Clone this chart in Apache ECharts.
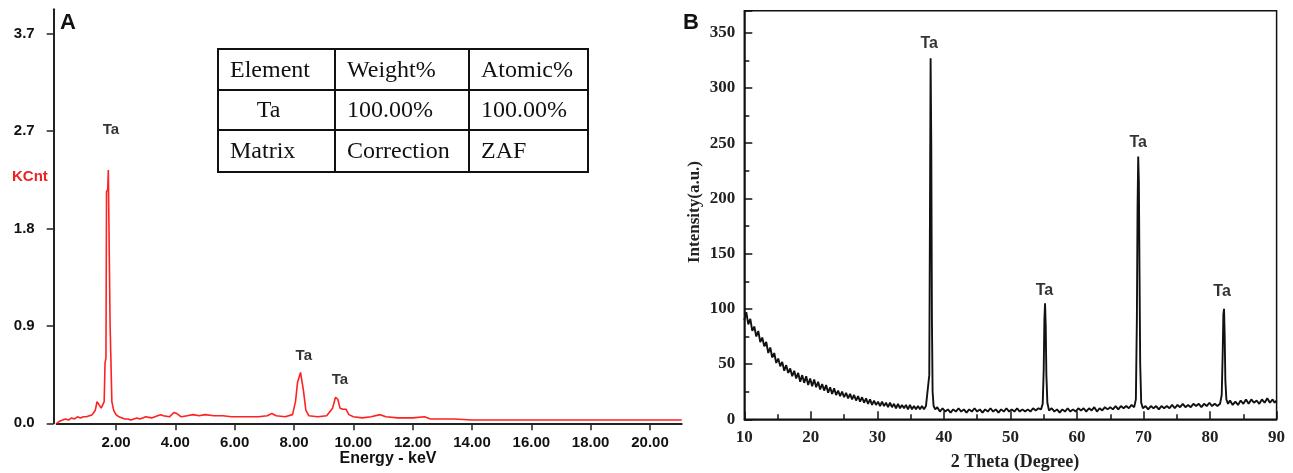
<!DOCTYPE html>
<html><head><meta charset="utf-8">
<script src="https://cdn.jsdelivr.net/npm/echarts@6/dist/echarts.min.js"></script>
<style>html,body{margin:0;padding:0;background:#fff}#c{width:1293px;height:473px}</style>
</head><body><div id="c"></div>
<script>
// ---- Panel A: EDS spectrum (Energy keV, KCnt)
const edsData = [
[0.0,0.0],[0.1,0.02],[0.2,0.03],[0.3,0.04],[0.4,0.03],[0.5,0.05],[0.6,0.04],[0.7,0.06],[0.8,0.05],[0.9,0.06],
[1.0,0.06],[1.1,0.07],[1.2,0.08],[1.3,0.12],[1.36,0.2],[1.42,0.19],[1.5,0.14],[1.56,0.14],[1.6,0.2],[1.63,0.56],
[1.66,0.6],[1.68,2.14],[1.72,2.16],[1.74,2.34],[1.78,2.34],[1.8,0.91],[1.84,0.9],[1.86,0.2],[1.92,0.12],[2.0,0.08],
[2.1,0.06],[2.2,0.05],[2.3,0.04],[2.4,0.04],[2.5,0.03],[2.6,0.04],[2.7,0.05],[2.8,0.04],[2.9,0.05],[3.0,0.06],
[3.2,0.05],[3.4,0.07],[3.5,0.08],[3.6,0.07],[3.8,0.06],[3.95,0.1],[4.05,0.09],[4.2,0.06],[4.4,0.07],[4.6,0.08],
[4.8,0.07],[5.0,0.08],[5.3,0.07],[5.6,0.07],[5.9,0.06],[6.2,0.06],[6.5,0.06],[6.8,0.06],[7.1,0.07],[7.25,0.09],
[7.4,0.07],[7.7,0.06],[7.95,0.08],[8.05,0.2],[8.12,0.38],[8.18,0.38],[8.22,0.47],[8.27,0.47],[8.32,0.3],[8.4,0.12],
[8.5,0.07],[8.8,0.06],[9.1,0.07],[9.3,0.14],[9.4,0.24],[9.48,0.22],[9.55,0.14],[9.65,0.13],[9.75,0.13],[9.85,0.08],
[10.0,0.06],[10.3,0.05],[10.6,0.06],[10.9,0.08],[11.1,0.06],[11.5,0.05],[12.0,0.05],[12.4,0.06],[12.6,0.04],[13.0,0.04],
[13.4,0.04],[14.0,0.03],[15.0,0.03],[16.0,0.03],[17.0,0.03],[18.0,0.03],[19.0,0.03],[20.0,0.03],[21.07,0.03]
];
const edsXTicks = [2,4,6,8,10,12,14,16,18,20];
const edsYTicks = [0,0.9,1.8,2.7,3.6];
const edsYLabels = ['0.0','0.9','1.8','2.7','3.7'];
const edsPeakLabels = [[1.83,2.71],[8.33,0.62],[9.55,0.40]];

// ---- Table in panel A
const tableRows = [
  ['Element','Weight%','Atomic%'],
  ['Ta','100.00%','100.00%'],
  ['Matrix','Correction','ZAF']
];

// ---- Panel B: XRD pattern (2 Theta, Intensity)
const xrdData = [
[10.0,90],[10.3,97],[10.6,86],[10.9,91],[11.2,80],[11.5,84],[11.8,75],[12.1,80],[12.4,70],[12.7,74],
[13.0,66],[13.3,70],[13.6,60],[13.9,65],[14.2,56],[14.5,60],[14.8,51],[15.1,55],[15.4,48],[15.7,52],
[16.0,44],[16.3,49],[16.6,42],[16.9,46],[17.2,39],[17.5,44],[17.8,37],[18.1,42],[18.4,34],[18.7,40],
[19.0,33],[19.3,39],[19.6,31],[19.9,37],[20.2,30],[20.5,36],[20.8,29],[21.1,34],[21.4,27],[21.7,32],
[22.0,26],[22.3,31],[22.6,24],[22.9,29],[23.2,23],[23.5,28],[23.8,22],[24.1,26],[24.4,21],[24.7,25],
[25.0,20],[25.3,24],[25.6,19],[25.9,23],[26.2,18],[26.5,22],[26.8,17],[27.1,21],[27.4,16],[27.7,20],
[28.0,15],[28.3,19],[28.6,14],[28.9,18],[29.2,13],[29.5,17],[29.8,13],[30.1,16],[30.4,12],[30.7,16],
[31.0,12],[31.3,15],[31.6,11],[31.9,15],[32.2,11],[32.5,14],[32.8,10],[33.1,14],[33.4,10],[33.7,13],
[34.0,10],[34.3,13],[34.6,9],[34.9,13],[35.2,9],[35.5,12],[35.8,9],[36.1,12],[36.4,9],[36.7,12],
[37.0,9],[37.3,12],[37.6,13],[37.8,40],[37.9,180],[38.0,327],[38.1,250],[38.2,90],[38.3,25],[38.45,12],
[38.7,9],[39.0,11],[39.4,7],[39.8,10],[40.2,7],[40.6,9],[41.0,6],[41.4,9],[41.8,7],[42.2,10],
[42.6,7],[43.0,9],[43.4,6],[43.8,9],[44.2,7],[44.6,10],[45.0,7],[45.4,9],[45.8,6],[46.2,9],
[46.6,7],[47.0,10],[47.4,7],[47.8,9],[48.2,6],[48.6,9],[49.0,7],[49.4,10],[49.8,7],[50.2,9],
[50.6,7],[51.0,10],[51.4,7],[51.8,9],[52.2,7],[52.6,9],[53.0,7],[53.4,10],[53.8,8],[54.2,10],
[54.6,9],[54.85,14],[55.0,45],[55.1,90],[55.2,105],[55.3,85],[55.4,40],[55.55,15],[55.8,8],[56.2,10],
[56.6,7],[57.0,9],[57.4,6],[57.8,9],[58.2,7],[58.6,10],[59.0,7],[59.4,9],[59.8,7],[60.2,10],
[60.6,8],[61.0,10],[61.4,7],[61.8,10],[62.2,8],[62.6,11],[63.0,7],[63.4,10],[63.8,8],[64.2,11],
[64.6,9],[65.0,11],[65.4,9],[65.8,12],[66.2,9],[66.6,12],[67.0,10],[67.4,12],[67.8,10],[68.2,13],
[68.6,11],[68.85,18],[69.0,90],[69.1,190],[69.2,238],[69.3,215],[69.4,130],[69.5,50],[69.65,15],[69.9,10],
[70.3,12],[70.7,9],[71.1,12],[71.5,10],[71.9,12],[72.3,9],[72.7,12],[73.1,10],[73.5,12],[73.9,10],
[74.3,13],[74.7,10],[75.1,13],[75.5,11],[75.9,14],[76.3,11],[76.7,13],[77.1,11],[77.5,14],[77.9,12],
[78.3,14],[78.7,11],[79.1,14],[79.5,12],[79.9,15],[80.3,12],[80.7,14],[81.1,12],[81.5,14],[81.75,22],
[81.9,60],[82.0,95],[82.1,100],[82.2,75],[82.3,35],[82.45,18],[82.7,14],[83.0,17],[83.4,13],[83.8,16],
[84.2,13],[84.6,17],[85.0,14],[85.4,18],[85.8,14],[86.2,18],[86.6,15],[87.0,17],[87.4,14],[87.8,18],
[88.2,15],[88.6,19],[89.0,15],[89.4,18],[89.7,15],[90.0,17]
];
const xrdPeakLabels = [[37.8,340],[55.1,117],[69.2,251],[81.8,116]];

const chart = echarts.init(document.getElementById('c'), null, {renderer:'canvas'});

const SANS = 'Liberation Sans, Arial, sans-serif';
const SERIF = 'Liberation Serif, Times New Roman, serif';

// table graphics
const colX = [218, 335, 469, 588];
const rowY = [49, 90, 130, 172];
const tableGraphics = [];
for (let r = 0; r < 3; r++) {
  for (let c = 0; c < 3; c++) {
    tableGraphics.push({
      type:'rect', z:100,
      shape:{x:colX[c], y:rowY[r], width:colX[c+1]-colX[c], height:rowY[r+1]-rowY[r]},
      style:{fill:'#fff', stroke:'#111', lineWidth:2}
    });
    const centered = (r === 1 && c === 0);
    tableGraphics.push({
      type:'text', z:101,
      x: centered ? (colX[c]+colX[c+1])/2 - 8 : colX[c] + 12,
      y: (rowY[r]+rowY[r+1])/2 + 1,
      style:{text: tableRows[r][c], fill:'#111', font:'24px ' + SERIF,
        align: centered ? 'center' : 'left', textAlign: centered ? 'center' : 'left',
        verticalAlign:'middle', textVerticalAlign:'middle'}
    });
  }
}

function txt(text, x, y, font, fill, align, rotation) {
  return {type:'text', z:50, x:x, y:y, rotation: rotation || 0,
    style:{text:text, font:font, fill:fill || '#111', align: align || 'left', textAlign: align || 'left',
      verticalAlign:'middle', textVerticalAlign:'middle'}};
}

const option = {
  animation:false,
  backgroundColor:'#fff',
  grid:[
    {left:56.7, right:1293-681.7, top:9.3, bottom:473-423.3, containLabel:false},
    {left:744.3, right:1293-1276.6, top:10.7, bottom:473-419.3, containLabel:false,
     show:true, borderColor:'#111', borderWidth:1.5, backgroundColor:'transparent'}
  ],
  xAxis:[
    {gridIndex:0, type:'value', min:0, max:21.07,
     axisLine:{show:true, onZero:false, lineStyle:{color:'#222', width:2}},
     axisTick:{show:true, inside:false, length:7, customValues:edsXTicks, lineStyle:{color:'#222', width:1.5}},
     axisLabel:{show:true, customValues:edsXTicks, margin:12, formatter:v => v.toFixed(2),
       color:'#111', fontWeight:'bold', fontSize:15, fontFamily:SANS},
     splitLine:{show:false}},
    {gridIndex:1, type:'value', min:10, max:90, interval:10,
     axisLine:{show:true, onZero:false, lineStyle:{color:'#111', width:1.5}},
     axisTick:{show:true, inside:true, length:8, lineStyle:{color:'#111', width:1.5}},
     minorTick:{show:true, splitNumber:2, length:5, lineStyle:{color:'#111', width:1.5}},
     axisLabel:{show:true, margin:10, color:'#222', fontWeight:'bold', fontSize:17, fontFamily:SERIF},
     splitLine:{show:false}}
  ],
  yAxis:[
    {gridIndex:0, type:'value', min:0, max:3.825, offset:3,
     axisLine:{show:true, onZero:false, lineStyle:{color:'#222', width:2}},
     axisTick:{show:true, inside:false, length:7, customValues:edsYTicks, lineStyle:{color:'#222', width:1.5}},
     axisLabel:{show:true, customValues:edsYTicks, margin:19,
       formatter:v => { let bi=0; edsYTicks.forEach((t,i)=>{ if (Math.abs(t-v) < Math.abs(edsYTicks[bi]-v)) bi=i; }); return edsYLabels[bi]; },
       color:'#111', fontWeight:'bold', fontSize:15, fontFamily:SANS},
     splitLine:{show:false}},
    {gridIndex:1, type:'value', min:0, max:370, interval:50,
     axisLine:{show:true, onZero:false, lineStyle:{color:'#111', width:1.5}},
     axisTick:{show:true, inside:true, length:8, lineStyle:{color:'#111', width:1.5}},
     minorTick:{show:true, splitNumber:2, length:5, lineStyle:{color:'#111', width:1.5}},
     axisLabel:{show:true, margin:9, showMaxLabel:false, color:'#222', fontWeight:'bold', fontSize:17, fontFamily:SERIF},
     splitLine:{show:false}}
  ],
  series:[
    {type:'line', xAxisIndex:0, yAxisIndex:0, data:edsData, showSymbol:false, symbol:'none',
     lineStyle:{color:'#ff2020', width:1.6}, silent:true},
    {type:'scatter', xAxisIndex:0, yAxisIndex:0, data:edsPeakLabels, symbolSize:1,
     itemStyle:{color:'rgba(0,0,0,0)'}, silent:true,
     label:{show:true, position:'inside', formatter:'Ta', color:'#000', fontWeight:'bold', fontSize:15, fontFamily:SANS, textBorderWidth:0}},
    {type:'line', xAxisIndex:1, yAxisIndex:1, data:xrdData, showSymbol:false, symbol:'none',
     lineStyle:{color:'#111', width:1.9}, silent:true},
    {type:'scatter', xAxisIndex:1, yAxisIndex:1, data:xrdPeakLabels, symbolSize:1,
     itemStyle:{color:'rgba(0,0,0,0)'}, silent:true,
     label:{show:true, position:'inside', formatter:'Ta', color:'#000', fontWeight:'bold', fontSize:16, fontFamily:SANS, textBorderWidth:0}}
  ],
  graphic:[
    txt('A', 60, 23, 'bold 22px ' + SANS, '#111'),
    txt('B', 683, 23, 'bold 22px ' + SANS, '#111'),
    txt('KCnt', 12, 177, 'bold 15px ' + SANS, '#ee2222'),
    txt('Energy - keV', 388, 459, 'bold 16px ' + SANS, '#111', 'center'),
    txt('Intensity(a.u.)', 695, 212, 'bold 17px ' + SERIF, '#222', 'center', Math.PI/2),
    txt('2 Theta (Degree)', 1015, 462, 'bold 18px ' + SERIF, '#222', 'center')
  ].concat(tableGraphics)
};
chart.setOption(option);
</script>
</body></html>
